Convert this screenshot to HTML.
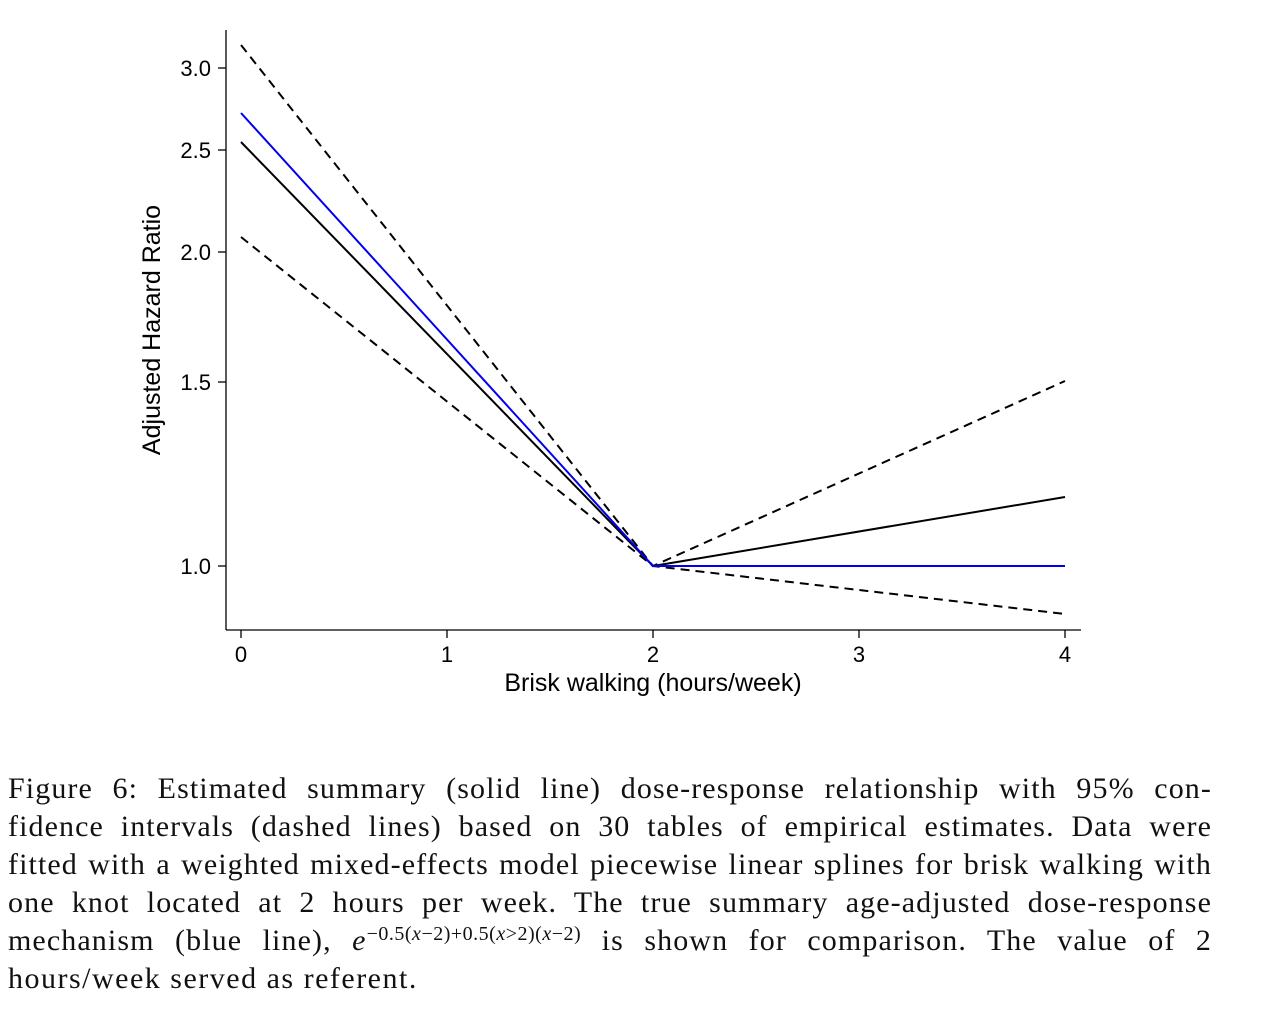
<!DOCTYPE html>
<html><head><meta charset="utf-8"><style>
body{margin:0;background:#fff;width:1268px;height:1012px;overflow:hidden;position:relative}
svg{position:absolute;left:0;top:0}
.cap{position:absolute;left:8px;width:1204px;font-family:"Liberation Serif",serif;font-size:30px;letter-spacing:1.1px;color:#111}
.l{position:absolute;left:0;width:1204px;text-align:justify;text-align-last:justify;white-space:nowrap;line-height:30px}
.last{text-align-last:left;letter-spacing:1.5px}
sup{font-size:20px;vertical-align:10px;line-height:0;letter-spacing:0.5px}
</style></head><body>
<svg width="1268" height="1012" font-family="Liberation Sans, sans-serif" font-size="22">
<g stroke="#000" stroke-width="1.3" fill="none">
<line x1="226" y1="30" x2="226" y2="630"/>
<line x1="226" y1="630" x2="1081" y2="630"/>
<line x1="218" y1="68" x2="226" y2="68"/><line x1="218" y1="150" x2="226" y2="150"/>
<line x1="218" y1="252" x2="226" y2="252"/><line x1="218" y1="382" x2="226" y2="382"/>
<line x1="218" y1="566" x2="226" y2="566"/>
<line x1="241" y1="630" x2="241" y2="638"/><line x1="447" y1="630" x2="447" y2="638"/>
<line x1="653" y1="630" x2="653" y2="638"/><line x1="859" y1="630" x2="859" y2="638"/>
<line x1="1065" y1="630" x2="1065" y2="638"/>
</g>
<g text-anchor="end" fill="#000">
<text x="211" y="76">3.0</text><text x="211" y="158">2.5</text><text x="211" y="260">2.0</text>
<text x="211" y="390">1.5</text><text x="211" y="574">1.0</text>
</g>
<g text-anchor="middle" fill="#000">
<text x="241" y="662">0</text><text x="447" y="662">1</text><text x="653" y="662">2</text>
<text x="859" y="662">3</text><text x="1065" y="662">4</text>
<text x="653" y="691" font-size="25">Brisk walking (hours/week)</text>
<text transform="translate(160,330) rotate(-90)" font-size="25">Adjusted Hazard Ratio</text>
</g>
<g fill="none" stroke-width="2">
<polyline points="241,45 653,566 1065,381" stroke="#000" stroke-dasharray="9,6"/>
<polyline points="241,237 653,566 1065,614" stroke="#000" stroke-dasharray="9,6"/>
<polyline points="241,142 653,566 1065,497" stroke="#000"/>
<polyline points="241,113 653,566 1065,566" stroke="#0000ee"/>
</g>
</svg>
<div class="cap">
<div class="l" style="top:774px">Figure 6: Estimated summary (solid line) dose-response relationship with 95% con-</div>
<div class="l" style="top:812px">fidence intervals (dashed lines) based on 30 tables of empirical estimates. Data were</div>
<div class="l" style="top:850px">fitted with a weighted mixed-effects model piecewise linear splines for brisk walking with</div>
<div class="l" style="top:888px">one knot located at 2 hours per week. The true summary age-adjusted dose-response</div>
<div class="l" style="top:926px">mechanism (blue line), <i>e</i><sup>−0.5(<i>x</i>−2)+0.5(<i>x</i>&gt;2)(<i>x</i>−2)</sup> is shown for comparison. The value of 2</div>
<div class="l last" style="top:964px">hours/week served as referent.</div>
</div>
</body></html>
